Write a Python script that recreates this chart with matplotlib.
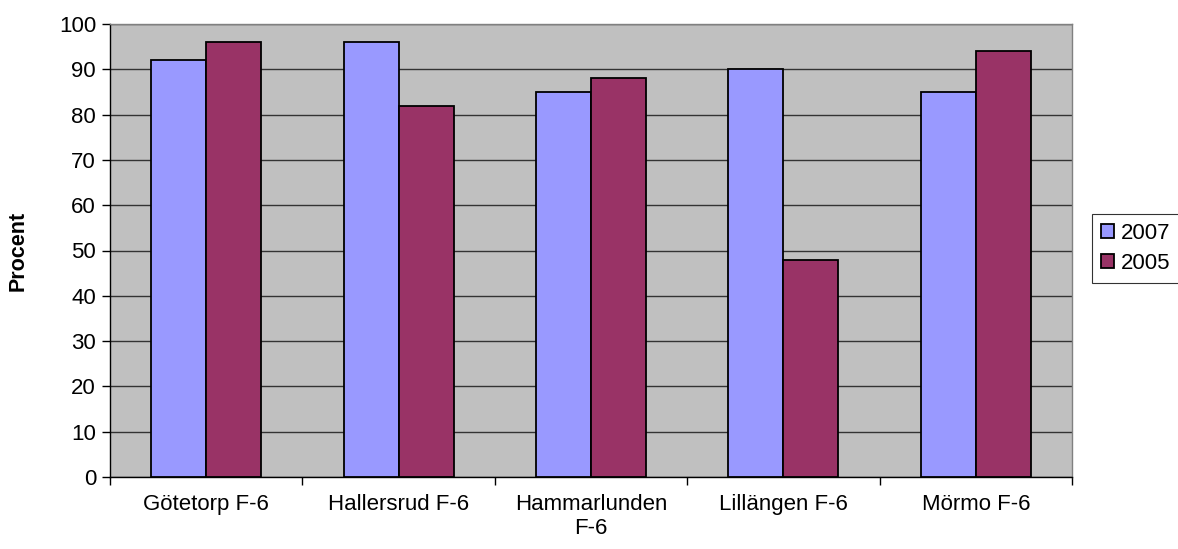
import matplotlib
matplotlib.use("Agg")
import matplotlib.pyplot as plt
import numpy as np

plt.rcParams['font.family'] = ['Liberation Sans', 'DejaVu Sans']

categories = ["Götetorp F-6", "Hallersrud F-6", "Hammarlunden\nF-6", "Lillängen F-6", "Mörmo F-6"]
series_names = ["2007", "2005"]
values_2007 = [92, 96, 85, 90, 85]
values_2005 = [96, 82, 88, 48, 94]
colors = ["#9999FF", "#993366"]

fig = plt.figure(figsize=(11.78, 5.49), dpi=100)
ax = fig.add_axes([110/1178, 1-477/549, (1072-110)/1178, (477-24)/549])
ax.set_facecolor("#C0C0C0")

x = np.arange(len(categories))
w = 0.286
b1 = ax.bar(x - w/2, values_2007, w, color=colors[0], edgecolor="black", linewidth=1.3, label=series_names[0], zorder=3)
b2 = ax.bar(x + w/2, values_2005, w, color=colors[1], edgecolor="black", linewidth=1.3, label=series_names[1], zorder=3)

ax.set_xlim(-0.5, len(categories) - 0.5)
ax.set_ylim(0, 100)
ax.set_yticks(np.arange(0, 101, 10))
ax.yaxis.grid(True, color="#333333", linewidth=1.0, zorder=1)
ax.set_axisbelow(True)

ax.set_xticks(x)
ax.set_xticklabels(categories, fontsize=16)
ax.tick_params(axis='x', length=0, pad=12)
ax.set_xticks(np.arange(-0.5, len(categories)), minor=True)
ax.tick_params(axis='x', which='minor', length=6, width=1, color="black")
ax.tick_params(axis='y', labelsize=16, length=6, width=1, color="black", pad=4)

for s in ['top', 'right']:
    ax.spines[s].set_color("#808080")
    ax.spines[s].set_linewidth(1.0)
for s in ['left', 'bottom']:
    ax.spines[s].set_color("black")
    ax.spines[s].set_linewidth(1.0)

ax.set_ylabel("Procent", fontsize=15.5, fontweight='bold', labelpad=22)

leg = fig.legend(handles=[b1, b2], labels=series_names, loc='upper left',
                 bbox_to_anchor=(1092/1178, 1-214/549), fontsize=16,
                 frameon=True, fancybox=False, edgecolor="black",
                 handlelength=0.6, handleheight=0.6, handletextpad=0.3,
                 borderpad=0.4, labelspacing=0.4, borderaxespad=0)
leg.get_frame().set_linewidth(0.8)

fig.savefig("out.png", dpi=100)
